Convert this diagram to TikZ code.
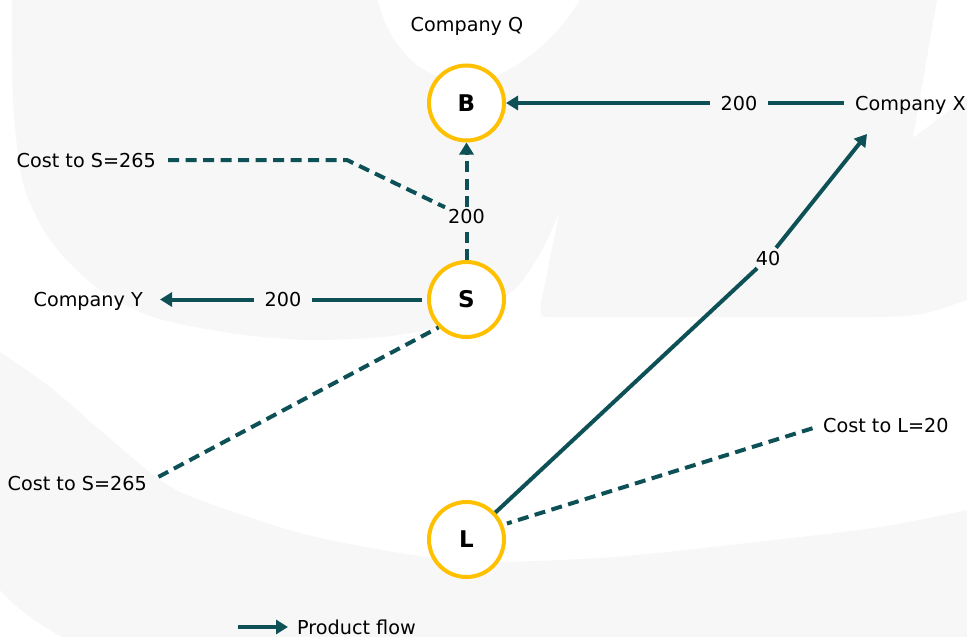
\documentclass[tikz,border=0pt]{standalone}
\usepackage{fontspec}
\setmainfont{DejaVu Sans}
\usetikzlibrary{arrows.meta}
\definecolor{flowteal}{HTML}{0D5157}
\definecolor{ringgold}{HTML}{FFC000}
\definecolor{markgrey}{HTML}{F7F7F7}
\tikzset{
  lbl/.style={inner sep=0pt, text height=14pt, text depth=0pt,
              font=\fontsize{19.2}{23}\selectfont},
  qty/.style={lbl, inner xsep=10.5pt},
  site/.style={circle, draw=ringgold, line width=4pt, fill=white,
               minimum size=75pt, inner sep=0pt,
               font=\fontsize{23}{27}\selectfont\bfseries},
  flow/.style={draw=flowteal, line width=4pt},
  tip/.style={-{Triangle[length=12pt,width=14pt]}},
  flowarrow/.style={flow, tip},
  costline/.style={draw=flowteal, line width=4pt, dash pattern=on 11pt off 6.5pt},
}
\begin{document}
\begin{tikzpicture}[x=1pt, y=-1pt]
\useasboundingbox (0,0) rectangle (967,637);

% faint watermark shapes
\fill[markgrey] (12,0) -- plot[smooth] coordinates {(12,0) (13,100) (23,183) (50,240)
    (96,287) (153,317) (230,333) (306,340) (383,337) (440,327) (482,311) (517,287)
    (542,250) (559,213)}
  -- (541,303) .. controls (540,317) .. (552,317)
  -- (877,317) .. controls (920,316) .. (967,300)
  -- (967,97) -- (913,138) -- (937,0) -- (580,0)
  -- plot[smooth] coordinates {(580,0) (562,25) (537,50) (508,70) (476,82) (446,79)
    (418,66) (397,44) (384,20) (378,0)}
  -- cycle;
\fill[markgrey] (0,352) -- plot[smooth] coordinates {(0,352) (50,387) (100,430)
    (160,480) (200,500) (300,533) (400,553) (480,562) (613,557) (747,543) (880,527)
    (967,510)}
  -- (967,637) -- (62,637) .. controls (35,622) and (15,607) .. (0,590) -- cycle;

% sites
\node[site] (B) at (466.5,103) {B};
\node[site] (S) at (466.5,299.5) {S};
\node[site] (L) at (466.5,539.5) {L};

% texts
\node[lbl] (cQ) at (467,24) {Company Q};
\node[lbl, anchor=west] (cX) at (855,103) {Company X};
\node[lbl, anchor=east] (cY) at (143,299.5) {Company Y};
\node[lbl, anchor=east] (cS1) at (156,160) {Cost to S=265};
\node[lbl, anchor=east] (cS2) at (147,483) {Cost to S=265};
\node[lbl, anchor=west] (cL) at (823,425) {Cost to L=20};
\node[lbl, anchor=west] (key) at (297,627) {Product flow};

% quantities on the flows
\node[qty] (q1) at (739,103) {200};
\node[qty] (q3) at (283,299.5) {200};
\node[lbl, inner xsep=3pt, inner ysep=2pt] (q2) at (466.5,216.5) {200};
\node[lbl, inner sep=3pt] (q4) at (768,258) {40};

\coordinate (xin) at (867,134);
\coordinate (bend) at (347,160);
\coordinate (keytail) at (238,627);

% product flows
\draw[flow, shorten <=11pt] (cX.west) -- (q1);
\draw[flowarrow] (q1) -- (B);
\draw[flow, shorten <=5pt] (S) -- (q3);
\draw[flowarrow, shorten >=17pt] (q3) -- (cY.east);
\draw[costline] (S) -- (q2);
\draw[costline, tip] (q2) -- (B);
\draw[flow] (L) -- (q4);
\draw[flowarrow] (q4) -- (xin);

% cost links
\draw[costline, shorten <=12pt] (cS1.east) -- (bend) -- (q2.north west);
\draw[costline, shorten <=13pt] (cS2.east) -- (S.225);
\draw[costline, shorten <=11pt, shorten >=4pt] (cL.west) -- (L.22);

% key
\draw[flowarrow, shorten >=9pt] (keytail) -- (key.west);
\end{tikzpicture}
\end{document}
